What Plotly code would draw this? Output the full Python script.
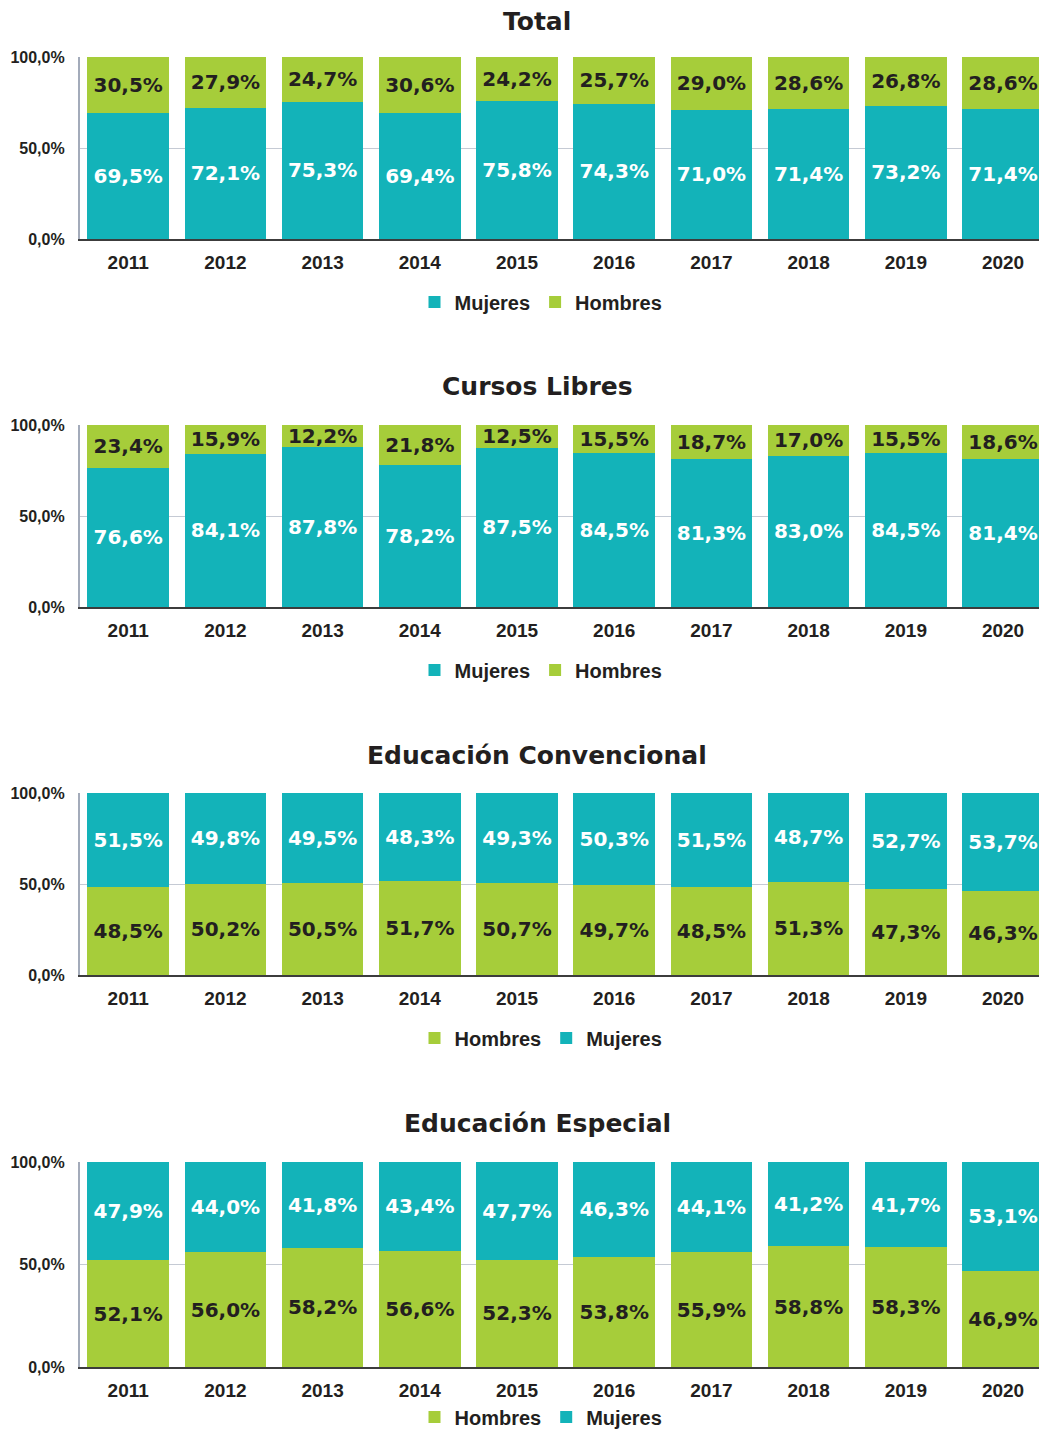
import plotly.graph_objects as go

years = ['2011', '2012', '2013', '2014', '2015', '2016', '2017', '2018', '2019', '2020']

total_mujeres = [69.5, 72.1, 75.3, 69.4, 75.8, 74.3, 71.0, 71.4, 73.2, 71.4]
total_hombres = [30.5, 27.9, 24.7, 30.6, 24.2, 25.7, 29.0, 28.6, 26.8, 28.6]

libres_mujeres = [76.6, 84.1, 87.8, 78.2, 87.5, 84.5, 81.3, 83.0, 84.5, 81.4]
libres_hombres = [23.4, 15.9, 12.2, 21.8, 12.5, 15.5, 18.7, 17.0, 15.5, 18.6]

conv_hombres = [48.5, 50.2, 50.5, 51.7, 50.7, 49.7, 48.5, 51.3, 47.3, 46.3]
conv_mujeres = [51.5, 49.8, 49.5, 48.3, 49.3, 50.3, 51.5, 48.7, 52.7, 53.7]

esp_hombres = [52.1, 56.0, 58.2, 56.6, 52.3, 53.8, 55.9, 58.8, 58.3, 46.9]
esp_mujeres = [47.9, 44.0, 41.8, 43.4, 47.7, 46.3, 44.1, 41.2, 41.7, 53.1]

ytick_vals = [0, 50, 100]
ytick_text = ['0,0%', '50,0%', '100,0%']

titles = ['Total', 'Cursos Libres', 'Educación Convencional', 'Educación Especial']

TEAL = '#13B3B9'
GREEN = '#A6CD3A'
DARK = '#231F20'
OFF = 8  # page body margin
W, H = 1047 - 2 * OFF, 1439 - 2 * OFF


def fmt(v):
    return f"{v:.1f}".replace('.', ',') + '%'


panels = [
    [('Mujeres', total_mujeres, TEAL, 'white'), ('Hombres', total_hombres, GREEN, DARK)],
    [('Mujeres', libres_mujeres, TEAL, 'white'), ('Hombres', libres_hombres, GREEN, DARK)],
    [('Hombres', conv_hombres, GREEN, DARK), ('Mujeres', conv_mujeres, TEAL, 'white')],
    [('Hombres', esp_hombres, GREEN, DARK), ('Mujeres', esp_mujeres, TEAL, 'white')],
]

# screen pixel layout: (plot top, plot bottom, title y, legend y)
geom = [
    (57, 239, 22, 302),
    (425, 607, 387, 670),
    (793, 975, 755, 1038),
    (1162, 1367, 1123, 1417),
]

fig = go.Figure()
annotations = []
layout = {}
for i, (series, (top, bot, ty, ly)) in enumerate(zip(panels, geom)):
    n = '' if i == 0 else str(i + 1)
    top, bot, ty, ly = top - OFF, bot - OFF, ty - OFF, ly - OFF
    for name, vals, col, tcol in series:
        fig.add_trace(go.Bar(
            x=years, y=vals, name=name,
            marker=dict(color=col, line=dict(width=0)),
            text=[fmt(v) for v in vals],
            textposition='inside', insidetextanchor='middle',
            textangle=0, constraintext='none',
            textfont=dict(family='DejaVu Sans', size=20, color=tcol, weight='bold'),
            xaxis='x' + n, yaxis='y' + n,
            legend='legend' + n,
            hoverinfo='skip',
        ))
    layout['xaxis' + n] = dict(
        type='category', domain=[(79.6 - OFF) / W, 1], range=[-0.5, 9.37],
        anchor='y' + n, showline=True, linecolor='#3C3C3C', linewidth=1.5,
        showgrid=False, zeroline=False, ticks='', ticklabelstandoff=5,
        tickfont=dict(family='Liberation Sans', size=19, color=DARK, weight='bold'),
        fixedrange=True,
    )
    layout['yaxis' + n] = dict(
        domain=[1 - bot / H, 1 - top / H], range=[0, 100], anchor='x' + n,
        tickvals=ytick_vals, ticktext=ytick_text,
        showline=True, linecolor='#A3ABBA', linewidth=1.5,
        showgrid=True, gridcolor='#C5CAD4', gridwidth=1, zeroline=False,
        ticks='', ticklabelstandoff=10,
        tickfont=dict(family='Liberation Sans', size=16, color=DARK, weight='bold'),
        fixedrange=True,
    )
    layout['legend' + n] = dict(
        orientation='h', x=(541 - OFF) / W, xanchor='center', y=1 - ly / H, yanchor='middle',
        font=dict(family='Liberation Sans', size=20, color=DARK, weight='bold'),
        bgcolor='rgba(0,0,0,0)', traceorder='normal', itemwidth=30,
    )
    annotations.append(dict(
        text=titles[i], xref='paper', yref='paper', x=(537 - OFF) / W, y=1 - ty / H,
        xanchor='center', yanchor='middle', showarrow=False,
        font=dict(family='DejaVu Sans', size=25, color=DARK, weight='bold'),
    ))

fig.update_layout(
    width=W, height=H, margin=dict(l=0, r=0, t=0, b=0, autoexpand=False),
    barmode='stack', bargap=0.16,
    paper_bgcolor='white', plot_bgcolor='white',
    showlegend=True, annotations=annotations,
    **layout,
)

fig.write_html('out.html')
